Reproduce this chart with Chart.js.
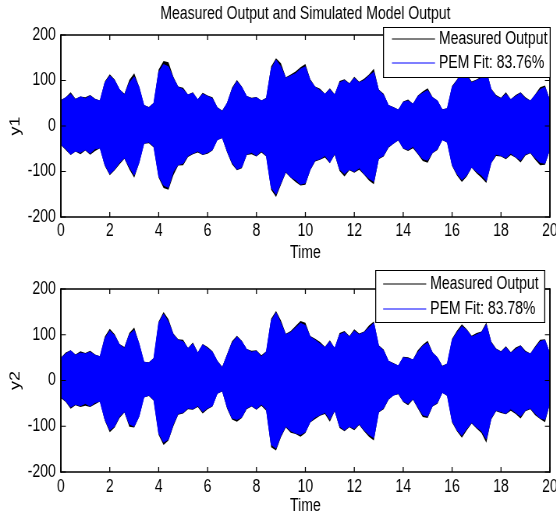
<!DOCTYPE html>
<html>
<head>
<meta charset="utf-8">
<script src="https://cdn.jsdelivr.net/npm/chart.js@4"></script>
<style>
    html, body { margin: 0; padding: 0; background: #fff; overflow: hidden; width: 556px; height: 513px; }
    .lienzo { position: absolute; left: 0; transform-origin: 0 0; transform: scaleX(0.78); }
</style>
</head>
<body>
<canvas id="grafica1" class="lienzo" width="713" height="265" style="top:0px"></canvas>
<canvas id="grafica2" class="lienzo" width="713" height="262" style="top:256px"></canvas>
<script>
//--------Datos (envolventes, cada 0.2 s)
const tiempo = [0,0.2,0.4,0.6,0.8,1,1.2,1.4,1.6,1.8,
    2,2.2,2.4,2.6,2.8,3,3.2,3.4,3.6,3.8,
    4,4.2,4.4,4.6,4.8,5,5.2,5.4,5.6,5.8,
    6,6.2,6.4,6.6,6.8,7,7.2,7.4,7.6,7.8,
    8,8.2,8.4,8.6,8.8,9,9.2,9.4,9.6,9.8,
    10,10.2,10.4,10.6,10.8,11,11.2,11.4,11.6,11.8,
    12,12.2,12.4,12.6,12.8,13,13.2,13.4,13.6,13.8,
    14,14.2,14.4,14.6,14.8,15,15.2,15.4,15.6,15.8,
    16,16.2,16.4,16.6,16.8,17,17.2,17.4,17.6,17.8,
    18,18.2,18.4,18.6,18.8,19,19.2,19.4,19.6,19.8,
    20]

const ticksTiempo = [0, 20, 2]
const ticksSalida = [-200, 200, 100]

//----y1
const medidaSup1 = [57,63,74,60,65,63,68,60,56,98,
    114,102,81,71,101,116,87,46,42,51,
    124,143,140,108,87,84,69,74,59,73,
    67,63,41,34,51,84,101,87,66,62,
    64,56,62,131,149,138,107,113,120,129,
    136,103,87,82,71,83,70,99,103,94,
    108,97,104,113,126,80,71,46,42,36,
    54,58,49,67,76,83,64,56,37,39,
    88,102,121,114,98,102,109,124,82,68,
    62,74,59,68,74,63,56,70,85,89,
    57]
const medidaInf1 = [-42,-53,-64,-56,-62,-54,-63,-55,-49,-88,
    -108,-97,-84,-72,-95,-114,-82,-39,-38,-47,
    -114,-136,-140,-108,-87,-86,-68,-62,-58,-64,
    -61,-54,-31,-27,-58,-84,-97,-93,-64,-62,
    -67,-58,-67,-140,-156,-129,-103,-114,-123,-131,
    -129,-97,-78,-74,-69,-82,-63,-99,-111,-97,
    -103,-96,-107,-120,-128,-73,-67,-48,-39,-32,
    -50,-55,-49,-62,-77,-81,-60,-53,-31,-37,
    -88,-109,-123,-111,-92,-104,-114,-125,-82,-66,
    -67,-73,-64,-70,-80,-65,-60,-74,-86,-85,
    -53]
const ajusteSup1 = [55,62,70,58,64,60,66,58,55,95,
    110,100,80,68,95,108,85,45,40,50,
    118,135,130,105,85,80,68,72,58,70,
    65,60,40,32,50,80,98,85,65,60,
    62,55,60,125,145,130,105,110,115,125,
    130,100,85,78,70,80,68,95,100,92,
    105,95,100,110,118,78,68,45,40,35,
    52,55,48,65,72,78,62,55,35,38,
    85,100,115,110,95,100,105,118,80,65,
    60,70,58,65,72,60,55,68,80,85,
    55]
const ajusteInf1 = [-40,-50,-62,-55,-58,-52,-60,-50,-48,-85,
    -105,-95,-80,-70,-90,-108,-80,-38,-35,-45,
    -110,-130,-135,-100,-85,-82,-65,-60,-55,-62,
    -58,-52,-30,-25,-55,-80,-95,-90,-62,-58,
    -65,-55,-65,-135,-150,-125,-100,-112,-118,-128,
    -125,-95,-75,-72,-65,-80,-60,-95,-105,-95,
    -100,-92,-105,-115,-122,-70,-65,-45,-38,-30,
    -48,-52,-45,-60,-72,-75,-58,-50,-30,-35,
    -85,-105,-118,-108,-90,-100,-108,-120,-80,-62,
    -65,-70,-60,-68,-75,-62,-58,-70,-80,-82,
    -50]

//----y2
const medidaSup2 = [50,61,66,57,64,60,65,57,53,96,
    113,101,80,73,104,116,82,41,40,49,
    129,150,134,103,90,89,71,83,62,80,
    73,64,43,30,58,86,98,87,69,65,
    66,55,64,135,152,131,102,108,119,130,
    126,97,91,84,74,88,71,104,108,97,
    112,103,107,120,129,77,68,43,38,33,
    52,51,46,66,78,87,62,51,32,37,
    91,109,123,112,98,104,107,127,85,70,
    64,75,62,72,77,65,59,75,89,90,
    60]
const medidaInf2 = [-38,-47,-62,-54,-58,-55,-58,-52,-46,-88,
    -113,-103,-82,-70,-101,-103,-80,-37,-34,-44,
    -119,-141,-131,-100,-75,-72,-63,-64,-58,-72,
    -63,-57,-29,-24,-62,-85,-90,-82,-63,-57,
    -64,-55,-66,-146,-153,-124,-103,-114,-117,-123,
    -115,-92,-84,-77,-73,-90,-67,-104,-111,-102,
    -109,-97,-111,-123,-131,-70,-63,-42,-33,-30,
    -47,-54,-42,-61,-80,-82,-57,-51,-27,-34,
    -92,-111,-125,-109,-94,-105,-115,-136,-85,-67,
    -71,-74,-66,-73,-83,-67,-63,-76,-84,-91,
    -51]
const ajusteSup2 = [48,58,65,55,60,58,62,55,52,92,
    108,98,78,70,100,110,80,40,38,48,
    125,145,128,100,88,85,70,80,60,78,
    70,62,42,28,55,82,95,85,68,62,
    64,52,62,130,148,125,100,105,115,125,
    120,95,88,80,72,85,70,100,105,95,
    108,100,105,115,125,75,65,42,36,32,
    50,48,45,62,75,82,60,50,30,36,
    88,105,118,110,95,100,105,122,82,68,
    62,72,60,68,75,62,58,72,85,88,
    58]
const ajusteInf2 = [-35,-45,-58,-52,-55,-50,-56,-48,-45,-85,
    -108,-100,-78,-68,-95,-100,-78,-36,-32,-42,
    -115,-135,-128,-95,-72,-70,-60,-62,-55,-68,
    -60,-55,-28,-22,-58,-82,-85,-80,-60,-55,
    -62,-52,-62,-140,-148,-120,-100,-110,-115,-118,
    -112,-90,-80,-75,-70,-85,-65,-100,-108,-100,
    -105,-95,-108,-118,-125,-68,-60,-40,-32,-28,
    -45,-50,-40,-58,-75,-78,-55,-48,-26,-32,
    -88,-108,-120,-105,-92,-102,-110,-128,-82,-65,
    -68,-72,-62,-70,-78,-65,-60,-72,-82,-85,
    -48]




//--------Estilo general
const ESCALA_X = 0.78 //el canvas se estrecha con CSS, como la figura original
const AZUL = '#0000ff'
const NEGRO = '#000000'

Chart.defaults.font.family = "'Liberation Sans', Arial, Helvetica, sans-serif"
Chart.defaults.font.size = 18
Chart.defaults.color = NEGRO


//Marco de ejes estilo MATLAB + leyenda dentro del area
const marcoMatlab = {
    id: 'marcoMatlab',
    afterDraw(chart, args, opciones) {
        const ctx = chart.ctx
        const area = chart.chartArea
        const escalaX = chart.scales.x
        const escalaY = chart.scales.y
        const g = 1 / ESCALA_X //1px en horizontal una vez estrechado
        const largo = 5

        ctx.save()
        ctx.fillStyle = NEGRO

        //ticks hacia dentro
        escalaX.ticks.forEach(tick => {
            const px = escalaX.getPixelForValue(tick.value)
            ctx.fillRect(px - g / 2, area.top, g, largo)
            ctx.fillRect(px - g / 2, area.bottom - largo, g, largo)
        })
        escalaY.ticks.forEach(tick => {
            const py = escalaY.getPixelForValue(tick.value)
            ctx.fillRect(area.left, py - 0.5, largo * g, 1)
            ctx.fillRect(area.right - largo * g, py - 0.5, largo * g, 1)
        })

        //caja
        ctx.fillRect(area.left, area.top - 0.75, area.width, 1.5)
        ctx.fillRect(area.left, area.bottom - 0.75, area.width, 1.5)
        ctx.fillRect(area.left - 0.75 * g, area.top - 0.75, 1.5 * g, area.height + 1.5)
        ctx.fillRect(area.right - 0.75 * g, area.top - 0.75, 1.5 * g, area.height + 1.5)

        //leyenda
        const ley = opciones.leyenda
        const lx = area.right + ley.dx
        const ly = area.top + ley.dy
        ctx.fillStyle = '#ffffff'
        ctx.fillRect(lx, ly, ley.ancho, ley.alto)
        ctx.fillStyle = NEGRO
        ctx.fillRect(lx, ly, ley.ancho, 1)
        ctx.fillRect(lx, ly + ley.alto - 1, ley.ancho, 1)
        ctx.fillRect(lx, ly, g, ley.alto)
        ctx.fillRect(lx + ley.ancho - g, ly, g, ley.alto)

        const entradas = [
            { color: chart.data.datasets[2].backgroundColor, texto: chart.data.datasets[2].label },
            { color: chart.data.datasets[0].backgroundColor, texto: chart.data.datasets[0].label }
        ]
        ctx.font = "18px 'Liberation Sans', Arial, sans-serif"
        ctx.textBaseline = 'middle'
        ctx.textAlign = 'left'
        entradas.forEach((entrada, i) => {
            const fy = ly + ley.filas[i]
            ctx.fillStyle = entrada.color
            ctx.fillRect(lx + ley.lineaIni, fy - 0.5, ley.lineaFin - ley.lineaIni, 1)
            ctx.fillStyle = NEGRO
            ctx.fillText(entrada.texto, lx + ley.textoX, fy)
        })

        ctx.restore()
    }
}


//--------Funciones
function puntos(valores) {
    return tiempo.map((t, i) => ({ x: t, y: valores[i] }))
}

function crearGrafica(canvas, cfg) {
    return new Chart(canvas, {
        type: 'line',
        data: {
            datasets: [
                { label: cfg.etiquetaAjuste, data: puntos(cfg.ajusteSup), borderColor: AZUL, backgroundColor: AZUL, borderWidth: 1, fill: '+1' },
                { label: '', data: puntos(cfg.ajusteInf), borderColor: AZUL, borderWidth: 1, fill: false },
                { label: 'Measured Output', data: puntos(cfg.medidaSup), borderColor: NEGRO, backgroundColor: NEGRO, borderWidth: 0, fill: '+1' },
                { label: '', data: puntos(cfg.medidaInf), borderColor: NEGRO, borderWidth: 0, fill: false }
            ]
        },
        options: {
            responsive: false,
            animation: false,
            devicePixelRatio: 1,
            layout: { padding: { top: cfg.paddingArriba, right: 8, left: 0, bottom: 0 } },
            elements: {
                point: { radius: 0 },
                line: { tension: 0 }
            },
            plugins: {
                legend: { display: false },
                tooltip: { enabled: false },
                title: {
                    display: !!cfg.titulo,
                    text: cfg.titulo,
                    fullSize: false,
                    color: NEGRO,
                    font: { size: 18, weight: 'normal' },
                    padding: { top: 3, bottom: 10.4 }
                },
                marcoMatlab: { leyenda: cfg.leyenda }
            },
            scales: {
                x: {
                    type: 'linear',
                    min: ticksTiempo[0],
                    max: ticksTiempo[1],
                    ticks: { stepSize: ticksTiempo[2], padding: cfg.paddingTicksX, maxRotation: 0, autoSkip: false, color: NEGRO },
                    grid: { display: false, drawTicks: false },
                    border: { display: false },
                    title: { display: true, text: 'Time', color: NEGRO, padding: { top: 0, bottom: cfg.paddingTime } },
                    afterFit(escala) {
                        escala.height = cfg.altoEjeX
                        escala.paddingLeft = 0
                        escala.paddingRight = 0
                    }
                },
                y: {
                    type: 'linear',
                    min: ticksSalida[0],
                    max: ticksSalida[1],
                    ticks: { stepSize: ticksSalida[2], padding: 6.4, color: NEGRO },
                    grid: { display: false, drawTicks: false },
                    border: { display: false },
                    title: { display: true, text: cfg.nombreY, color: NEGRO, padding: { top: 8.8, bottom: 0 } },
                    afterFit(escala) {
                        escala.width = 78
                    }
                }
            }
        },
        plugins: [marcoMatlab]
    })
}


//--------Graficas
crearGrafica(document.getElementById('grafica1'), {
    titulo: 'Measured Output and Simulated Model Output',
    nombreY: 'y1',
    etiquetaAjuste: 'PEM Fit: 83.76%',
    medidaSup: medidaSup1, medidaInf: medidaInf1,
    ajusteSup: ajusteSup1, ajusteInf: ajusteInf1,
    paddingArriba: 0,
    altoEjeX: 48,
    paddingTicksX: 3,
    paddingTime: 1.5,
    leyenda: { dx: -214, dy: -8, ancho: 215, alto: 51, filas: [12, 36], lineaIni: 11.5, lineaFin: 66.7, textoX: 71.8 }
})

crearGrafica(document.getElementById('grafica2'), {
    titulo: '',
    nombreY: 'y2',
    etiquetaAjuste: 'PEM Fit: 83.78%',
    medidaSup: medidaSup2, medidaInf: medidaInf2,
    ajusteSup: ajusteSup2, ajusteInf: ajusteInf2,
    paddingArriba: 33,
    altoEjeX: 46,
    paddingTicksX: 4,
    paddingTime: 1.2,
    leyenda: { dx: -224, dy: -19, ancho: 218, alto: 53, filas: [14, 39], lineaIni: 10.2, lineaFin: 65.4, textoX: 70.5 }
})
</script>
</body>
</html>
